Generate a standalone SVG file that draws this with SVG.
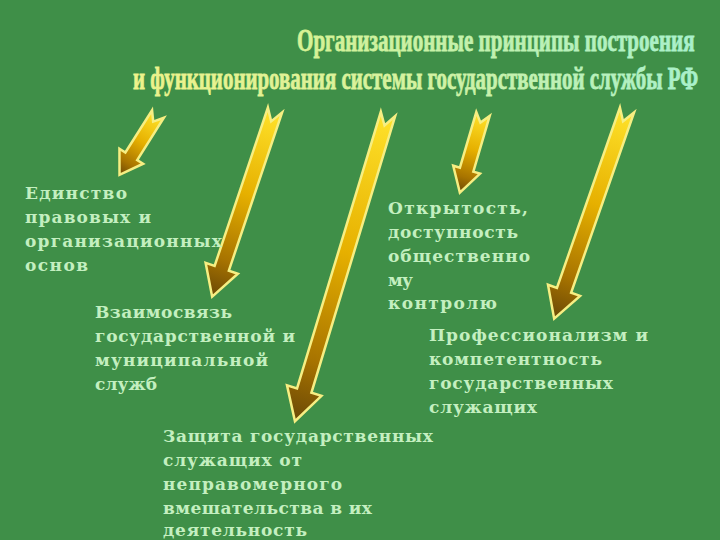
<svg xmlns="http://www.w3.org/2000/svg" width="720" height="540" viewBox="0 0 720 540">
  <defs>
    <linearGradient id="arrowGrad" x1="0" y1="0" x2="0" y2="1">
      <stop offset="0" stop-color="#ffe22a"/>
      <stop offset="0.45" stop-color="#e6b000"/>
      <stop offset="0.8" stop-color="#a87400"/>
      <stop offset="1" stop-color="#6a4806"/>
    </linearGradient>
    <linearGradient id="titleGrad1" x1="0" y1="0" x2="1" y2="0">
      <stop offset="0" stop-color="#d8f294"/>
      <stop offset="1" stop-color="#a8f0cc"/>
    </linearGradient>
    <linearGradient id="titleGrad2" x1="0" y1="0" x2="1" y2="0">
      <stop offset="0" stop-color="#eef28a"/>
      <stop offset="0.5" stop-color="#d4f2a0"/>
      <stop offset="1" stop-color="#a8f0cc"/>
    </linearGradient>
    <style>
      .title { font-family: "Liberation Serif", "DejaVu Serif", serif; font-weight: bold; font-size: 32px; stroke-width: 0.8px; }
      .t1 { fill: url(#titleGrad1); stroke: url(#titleGrad1); }
      .t2 { fill: url(#titleGrad2); stroke: url(#titleGrad2); }
      .label { font-family: "DejaVu Serif", "Liberation Serif", serif; font-weight: bold; font-size: 17px; fill: #c4efc0; }
      .arrow { fill: url(#arrowGrad); stroke: #f6ee82; stroke-width: 2.5; stroke-linejoin: miter; }
    </style>
  </defs>

  <rect x="0" y="0" width="720" height="540" fill="#3f8f48"/>

  <g id="title">
    <text class="title t1" transform="scale(0.7,1)" x="424.3" y="51" textLength="568" lengthAdjust="spacingAndGlyphs">Организационные принципы построения</text>
    <text class="title t2" transform="scale(0.6,1)" x="221.7" y="89" textLength="942" lengthAdjust="spacingAndGlyphs">и функционирования системы государственной службы РФ</text>
  </g>

  <g id="connectors">
    <polygon class="arrow" transform="translate(158,114) rotate(32.3)" points="-7,0 0,9 7,0 7,50 14,50 0,72 -14,50 -7,50"/>
    <polygon class="arrow" transform="translate(275,110) rotate(18.6)" points="-7.5,0 0,12 7.5,0 7.5,167 17,167 0,197 -17,167 -7.5,167"/>
    <polygon class="arrow" transform="translate(388,114) rotate(16.85)" points="-7.5,0 0,12 7.5,0 7.5,289 18,289 0,321 -18,289 -7.5,289"/>
    <polygon class="arrow" transform="translate(483,114) rotate(16.4)" points="-7,0 0,9 7,0 7,58 14,58 0,82 -14,58 -7,58"/>
    <polygon class="arrow" transform="translate(627,110) rotate(19.25)" points="-7.5,0 0,12 7.5,0 7.5,191 17,191 0,221 -17,191 -7.5,191"/>
  </g>

  <g id="node-unity">
    <text class="label" x="25" y="199" textLength="102" lengthAdjust="spacing">Единство</text>
    <text class="label" x="25" y="223" textLength="126" lengthAdjust="spacing">правовых и</text>
    <text class="label" x="25" y="247" textLength="197" lengthAdjust="spacing">организационных</text>
    <text class="label" x="25" y="271" textLength="63" lengthAdjust="spacing">основ</text>
  </g>

  <g id="node-interrelation">
    <text class="label" x="95" y="318" textLength="137" lengthAdjust="spacing">Взаимосвязь</text>
    <text class="label" x="95" y="342" textLength="200" lengthAdjust="spacing">государственной и</text>
    <text class="label" x="95" y="366" textLength="173" lengthAdjust="spacing">муниципальной</text>
    <text class="label" x="95" y="390" textLength="62" lengthAdjust="spacing">служб</text>
  </g>

  <g id="node-openness">
    <text class="label" x="388" y="214" textLength="140" lengthAdjust="spacing">Открытость,</text>
    <text class="label" x="388" y="238" textLength="130" lengthAdjust="spacing">доступность</text>
    <text class="label" x="388" y="262" textLength="142" lengthAdjust="spacing">общественно</text>
    <text class="label" x="388" y="286" textLength="25" lengthAdjust="spacing">му</text>
    <text class="label" x="388" y="309" textLength="109" lengthAdjust="spacing">контролю</text>
  </g>

  <g id="node-professionalism">
    <text class="label" x="429" y="341" textLength="219" lengthAdjust="spacing">Профессионализм и</text>
    <text class="label" x="429" y="365" textLength="173" lengthAdjust="spacing">компетентность</text>
    <text class="label" x="429" y="389" textLength="184" lengthAdjust="spacing">государственных</text>
    <text class="label" x="429" y="413" textLength="108" lengthAdjust="spacing">служащих</text>
  </g>

  <g id="node-protection">
    <text class="label" x="163" y="442" textLength="270" lengthAdjust="spacing">Защита государственных</text>
    <text class="label" x="163" y="466" textLength="139" lengthAdjust="spacing">служащих от</text>
    <text class="label" x="163" y="490" textLength="179" lengthAdjust="spacing">неправомерного</text>
    <text class="label" x="163" y="514" textLength="209" lengthAdjust="spacing">вмешательства в их</text>
    <text class="label" x="163" y="536" textLength="144" lengthAdjust="spacing">деятельность</text>
  </g>
</svg>
